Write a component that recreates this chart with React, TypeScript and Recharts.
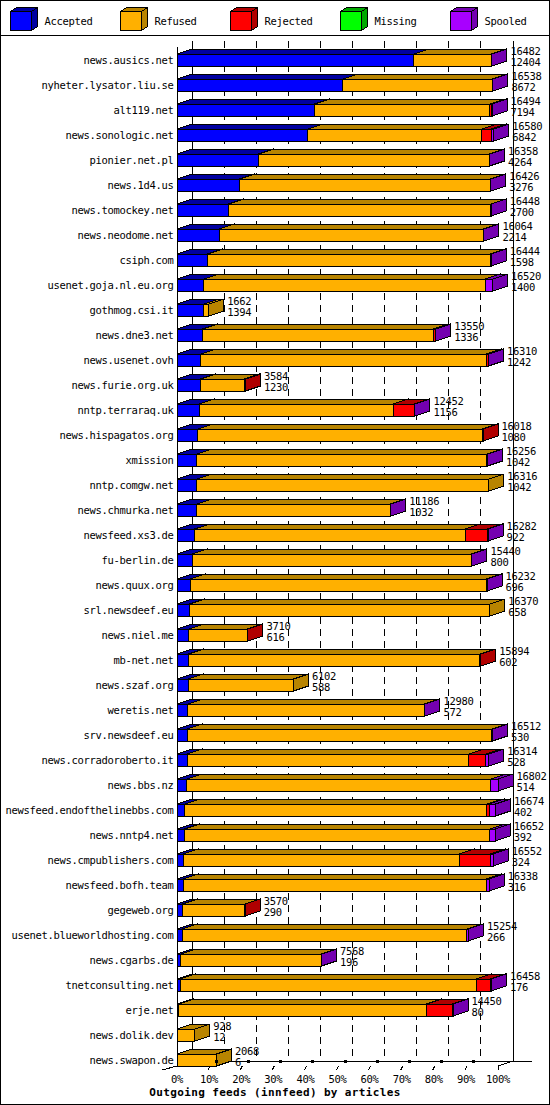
import React from "react";
import { BarChart, Bar, XAxis, YAxis, CartesianGrid, Legend, LabelList } from "recharts";

const HOSTS = [
  "news.ausics.net", "nyheter.lysator.liu.se", "alt119.net", "news.sonologic.net",
  "pionier.net.pl", "news.1d4.us", "news.tomockey.net", "news.neodome.net",
  "csiph.com", "usenet.goja.nl.eu.org", "gothmog.csi.it", "news.dne3.net",
  "news.usenet.ovh", "news.furie.org.uk", "nntp.terraraq.uk", "news.hispagatos.org",
  "xmission", "nntp.comgw.net", "news.chmurka.net", "newsfeed.xs3.de",
  "fu-berlin.de", "news.quux.org", "srl.newsdeef.eu", "news.niel.me",
  "mb-net.net", "news.szaf.org", "weretis.net", "srv.newsdeef.eu",
  "news.corradoroberto.it", "news.bbs.nz", "newsfeed.endofthelinebbs.com", "news.nntp4.net",
  "news.cmpublishers.com", "newsfeed.bofh.team", "gegeweb.org", "usenet.blueworldhosting.com",
  "news.cgarbs.de", "tnetconsulting.net", "erje.net", "news.dolik.dev",
  "news.swapon.de",
];

// articles offered / accepted (printed at the end of each bar)
const OFFERED = [
  16482, 16538, 16494, 16580, 16358, 16426, 16448, 16064, 16444, 16520,
  1662, 13550, 16310, 3584, 12452, 16018, 16256, 16316, 11186, 16282,
  15440, 16232, 16370, 3710, 15894, 6102, 12980, 16512, 16314, 16802,
  16674, 16652, 16552, 16338, 3570, 15254, 7568, 16458, 14450, 928,
  2068,
];
const ACCEPTED = [
  12404, 8672, 7194, 6842, 4264, 3276, 2700, 2214, 1598, 1400,
  1394, 1336, 1242, 1230, 1156, 1080, 1042, 1042, 1032, 922,
  800, 696, 658, 616, 602, 588, 572, 530, 528, 514,
  402, 392, 324, 316, 290, 266, 196, 176, 80, 12,
  6,
];
const REFUSED = [
  4038, 7836, 9170, 9108, 12074, 13130, 13728, 13820, 14786, 14740,
  268, 12094, 14938, 2304, 10156, 14888, 15174, 15274, 10124, 14160,
  14615, 15506, 15712, 3064, 15242, 5514, 12388, 15942, 14756, 15918,
  15823, 15990, 14440, 15882, 3250, 14908, 7352, 15495, 12982, 916,
  2062,
];
const REJECTED = [
  0, 0, 90, 490, 0, 0, 0, 0, 0, 0,
  0, 80, 100, 50, 1110, 50, 0, 0, 0, 1160,
  0, 0, 0, 30, 50, 0, 0, 0, 880, 0,
  110, 0, 1640, 0, 30, 0, 0, 735, 1358, 0,
  0,
];
const MISSING = [
  0, 0, 0, 0, 0, 0, 0, 0, 0, 0,
  0, 0, 0, 0, 0, 0, 0, 0, 0, 0,
  0, 0, 0, 0, 0, 0, 0, 0, 0, 0,
  0, 0, 0, 0, 0, 0, 0, 0, 0, 0,
  0,
];
const SPOOLED = [
  40, 30, 40, 140, 20, 20, 20, 30, 60, 380,
  0, 40, 30, 0, 30, 0, 40, 0, 30, 40,
  25, 30, 0, 0, 0, 0, 20, 40, 150, 370,
  339, 270, 148, 140, 0, 80, 20, 52, 30, 0,
  0,
];

const PERCENT_TICKS = [0, 10, 20, 30, 40, 50, 60, 70, 80, 90, 100];
const TITLE = "Outgoing feeds (innfeed) by articles";

const SERIES = [
  { key: "accepted", name: "Accepted", front: "#0000ff", dark: "#0000a0" },
  { key: "refused", name: "Refused", front: "#ffb000", dark: "#b88400" },
  { key: "rejected", name: "Rejected", front: "#ff0000", dark: "#b00000" },
  { key: "missing", name: "Missing", front: "#00ff00", dark: "#00a800" },
  { key: "spooled", name: "Spooled", front: "#a800ff", dark: "#7400b0" },
];

const MAX_OFFERED = Math.max(...OFFERED);
const TICK_VALUES = PERCENT_TICKS.map((p) => (MAX_OFFERED * p) / 100);

const DATA = HOSTS.map((host, i) => ({
  host,
  offered: OFFERED[i],
  accepted: ACCEPTED[i],
  refused: REFUSED[i],
  rejected: REJECTED[i],
  missing: MISSING[i],
  spooled: SPOOLED[i],
}));

const W = 550;
const H = 1105;
const DX = 15; // depth of the 3d bars
const DY = 5;
const MONO = "'DejaVu Sans Mono', monospace";

function cubeShape(front: string, dark: string) {
  return function CubeSegment(props: any) {
    const { x, y, width, height } = props;
    if (!(width > 0) || !(height > 0)) return <g />;
    const x2 = x + width;
    const y2 = y + height;
    return (
      <g stroke="#000" strokeWidth={1} shapeRendering="crispEdges">
        <polygon points={`${x},${y} ${x + DX},${y - DY} ${x2 + DX},${y - DY} ${x2},${y}`} fill={dark} />
        <polygon points={`${x2},${y} ${x2 + DX},${y - DY} ${x2 + DX},${y2 - DY} ${x2},${y2}`} fill={dark} />
        <rect x={x} y={y} width={width} height={height} fill={front} />
      </g>
    );
  };
}

function GridLine(props: any) {
  const { x1, y1, y2, x, width } = props;
  const top = y1 - 6;
  const floor = y2 - 11;
  const isLeft = Math.abs(x1 - x) < 0.5;
  const isRight = Math.abs(x1 - (x + width)) < 0.5;
  if (isLeft) {
    return (
      <g stroke="#000" shapeRendering="crispEdges">
        <line x1={x1 + DX} y1={top} x2={x1 + DX} y2={floor} />
        <line x1={x1} y1={y1} x2={x1} y2={y2 - 6} />
        <line x1={x1} y1={floor} x2={x + width + DX + 19} y2={floor} />
      </g>
    );
  }
  return (
    <line
      x1={x1 + DX}
      y1={top}
      x2={x1 + DX}
      y2={floor}
      stroke="#000"
      strokeDasharray={isRight ? undefined : "7 5"}
      shapeRendering="crispEdges"
    />
  );
}

function HostTick(props: any) {
  const { x, y, payload } = props;
  return (
    <text x={x} y={y} dy={4} textAnchor="end" fontFamily={MONO} fontSize={10.5} letterSpacing={-0.32} fill="#000">
      {payload.value}
    </text>
  );
}

function PercentTick(props: any) {
  const { x, y, index } = props;
  const yf = y - 6;
  const yb = y - 11;
  const last = index === PERCENT_TICKS.length - 1;
  return (
    <g>
      <g stroke="#000" shapeRendering="crispEdges">
        {index === 0 && <line x1={x - 15} y1={yf + 4} x2={x} y2={yf} />}
        {last && <line x1={x} y1={yf} x2={x} y2={yf + 4} />}
        {last && <line x1={x} y1={yf} x2={x + DX} y2={yb} />}
        {index > 0 && !last && <line x1={x - 1} y1={yf + 4} x2={x + 1} y2={yf} />}
        {index > 0 && !last && <rect x={x + 6.5} y={yb - 1} width={2} height={2} fill="#000" />}
      </g>
      <text x={x} y={y + 10.5} textAnchor="middle" fontFamily={MONO} fontSize={10.5} letterSpacing={-0.32} fill="#000">
        {`${PERCENT_TICKS[index]}%`}
      </text>
    </g>
  );
}

function TotalsLabel(props: any) {
  const vb = props.viewBox ?? props;
  const i = HOSTS.indexOf(props.value);
  if (i < 0) return null;
  const tx = vb.x + vb.width + DX + 3.5;
  return (
    <g fontFamily={MONO} fontSize={10.5} letterSpacing={-0.32} fill="#000">
      <text x={tx} y={vb.y + 1}>{OFFERED[i]}</text>
      <text x={tx} y={vb.y + 12}>{ACCEPTED[i]}</text>
    </g>
  );
}

function Frame() {
  return (
    <svg width={W} height={H} style={{ display: "block" }}>
      <rect x={0.5} y={0.5} width={W - 1} height={H - 1} fill="none" stroke="#000" />
      <line x1={0} y1={35.5} x2={W} y2={35.5} stroke="#000" />
      {SERIES.map((s, i) => {
        const lx = 10.5 + i * 110;
        const ly = 11.5;
        const d = 6;
        const e = 4;
        return (
          <g key={s.key}>
            <g stroke="#000" shapeRendering="crispEdges">
              <polygon points={`${lx},${ly} ${lx + d},${ly - e} ${lx + 21 + d},${ly - e} ${lx + 21},${ly}`} fill={s.dark} />
              <polygon points={`${lx + 21},${ly} ${lx + 21 + d},${ly - e} ${lx + 21 + d},${ly + 19 - e} ${lx + 21},${ly + 19}`} fill={s.dark} />
              <rect x={lx} y={ly} width={21} height={19} fill={s.front} />
            </g>
            <text x={lx + 34} y={25} fontFamily={MONO} fontSize={10.5} letterSpacing={-0.32} fill="#000">
              {s.name}
            </text>
          </g>
        );
      })}
      <text x={W / 2} y={1095.5} textAnchor="middle" fontFamily={MONO} fontWeight="bold" fontSize={11} letterSpacing={0.36} fill="#000">
        {TITLE}
      </text>
    </svg>
  );
}

export default function App() {
  return (
    <div style={{ position: "absolute", left: 0, top: 0, width: W, height: H, background: "#fff" }}>
      <BarChart layout="vertical" width={W} height={H} data={DATA} margin={{ top: 47, right: 52, bottom: 0, left: 0 }}>
        <CartesianGrid horizontal={false} vertical={GridLine} />
        <XAxis
          type="number"
          domain={[0, MAX_OFFERED]}
          ticks={TICK_VALUES}
          interval={0}
          height={33}
          tickSize={0}
          tickMargin={0}
          axisLine={false}
          tickLine={false}
          tick={(p: any) => <PercentTick {...p} />}
        />
        <YAxis
          type="category"
          dataKey="host"
          width={177}
          interval={0}
          tickSize={0}
          tickMargin={3.5}
          axisLine={false}
          tickLine={false}
          tick={(p: any) => <HostTick {...p} />}
        />
        <Legend
          verticalAlign="middle"
          align="center"
          layout="horizontal"
          wrapperStyle={{ position: "absolute", left: 0, top: 0, width: W, height: H, pointerEvents: "none" }}
          content={() => <Frame />}
        />
        {SERIES.map((s, i) => (
          <Bar
            key={s.key}
            dataKey={s.key}
            name={s.name}
            stackId="feeds"
            fill={s.front}
            barSize={12}
            isAnimationActive={false}
            shape={cubeShape(s.front, s.dark)}
          >
            {i === SERIES.length - 1 && (
              <LabelList dataKey="host" content={(p: any) => <TotalsLabel {...p} />} />
            )}
          </Bar>
        ))}
      </BarChart>
    </div>
  );
}
